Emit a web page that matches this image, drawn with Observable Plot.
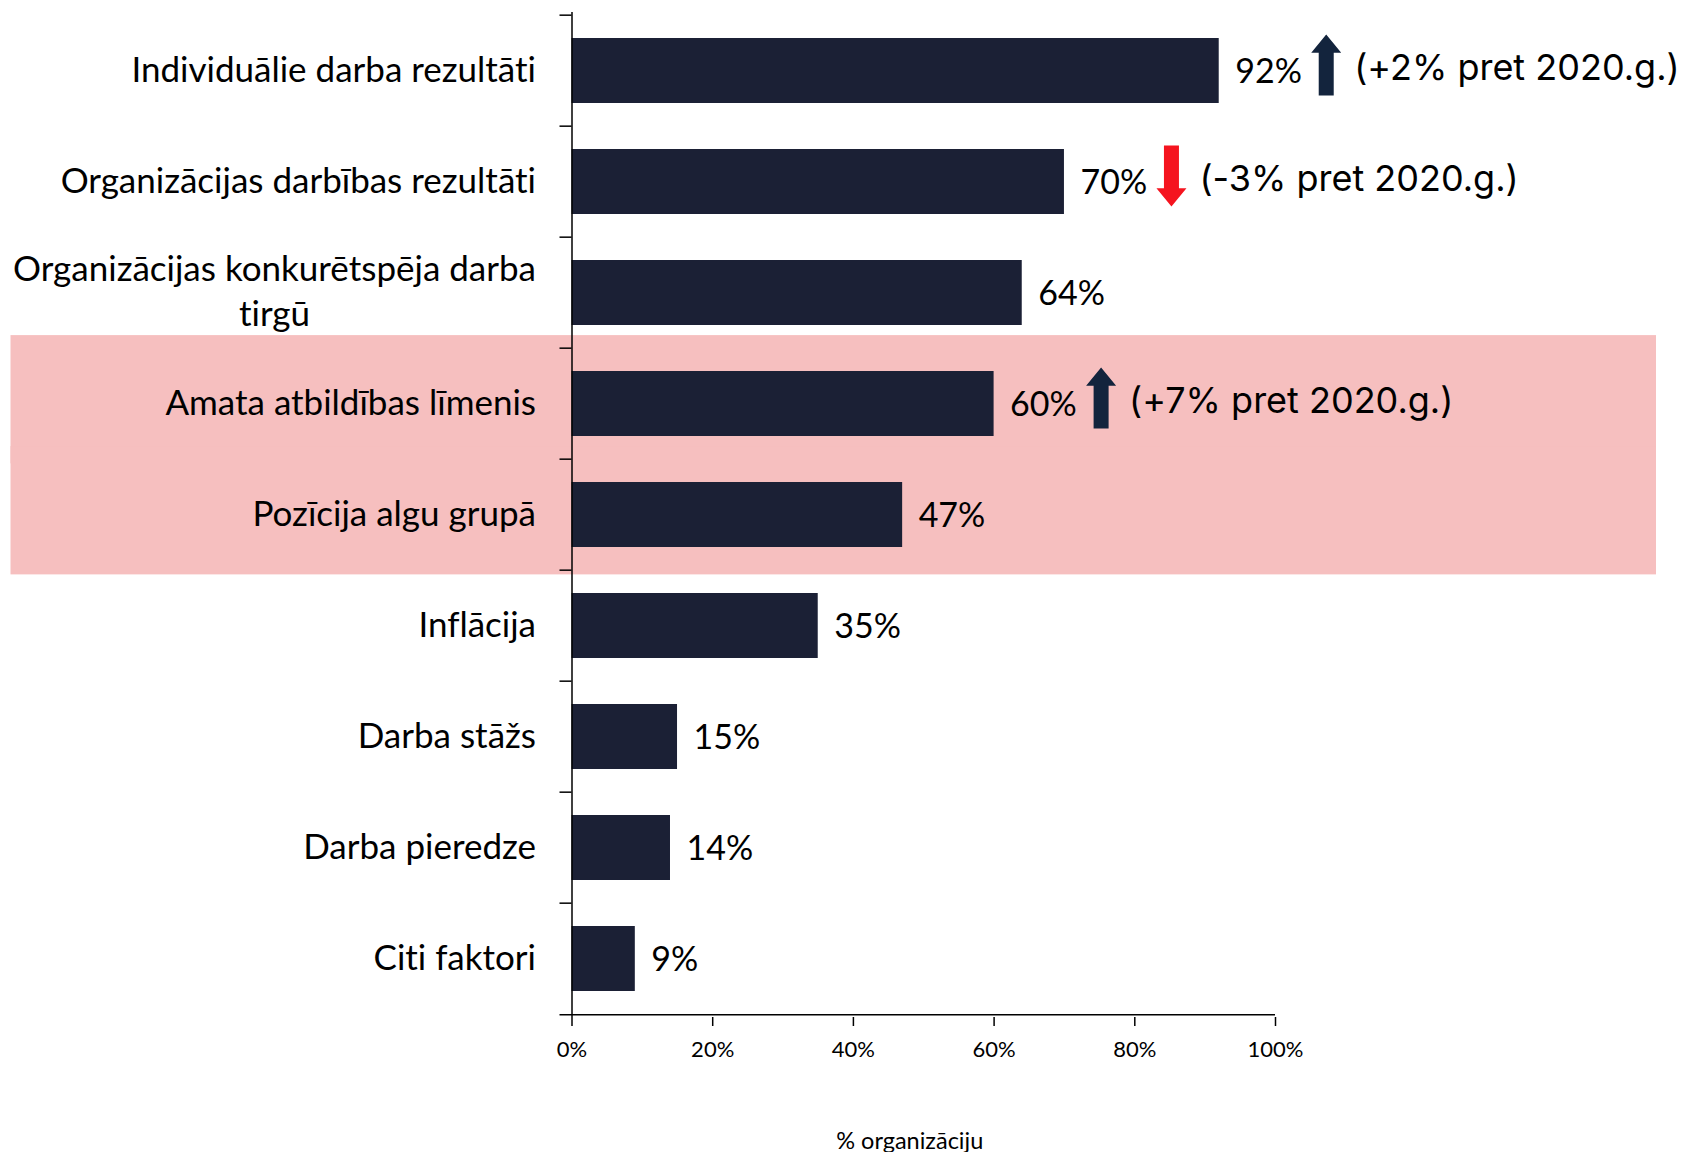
<!DOCTYPE html>
<html>
<head>
<meta charset="utf-8">
<script src="https://cdn.jsdelivr.net/npm/d3@7"></script>
<script src="https://cdn.jsdelivr.net/npm/@observablehq/plot@0.6"></script>
<style>
  html, body { margin: 0; padding: 0; background: #ffffff; }
  #chart svg { display: block; font-variant-ligatures: none; font-feature-settings: "liga" 0, "clig" 0; }
  #chart svg text { font-variant-ligatures: none; font-feature-settings: "liga" 0, "clig" 0; }
</style>
</head>
<body>
<div id="chart"></div>
<script>
// ---- data ----
const categories = [
  "Individuālie darba rezultāti",
  "Organizācijas darbības rezultāti",
  "Organizācijas konkurētspēja darba tirgū",
  "Amata atbildības līmenis",
  "Pozīcija algu grupā",
  "Inflācija",
  "Darba stāžs",
  "Darba pieredze",
  "Citi faktori"
];
const values = [92, 70, 64, 60, 47, 35, 15, 14, 9];
const categoryLabels = [
  "Individuālie darba rezultāti",
  "Organizācijas darbības rezultāti",
  "Organizācijas konkurētspēja darba\ntirgū",
  "Amata atbildības līmenis",
  "Pozīcija algu grupā",
  "Inflācija",
  "Darba stāžs",
  "Darba pieredze",
  "Citi faktori"
];
const highlightedCategories = ["Amata atbildības līmenis", "Pozīcija algu grupā"];
const changeCategories = ["Individuālie darba rezultāti", "Organizācijas darbības rezultāti", "Amata atbildības līmenis"];
const changeValues = [2, -3, 7];
const changeSuffix = "% pret 2020.g.";
const xTicks = [0, 20, 40, 60, 80, 100];
const xLabel = "% organizāciju";

// ---- derived tables ----
const data = categories.map((c, i) => ({category: c, value: values[i]}));
const labelOf = new Map(categories.map((c, i) => [c, categoryLabels[i]]));
const changeData = changeCategories.map((c, i) => ({
  category: c,
  change: changeValues[i],
  value: values[categories.indexOf(c)]
}));

// ---- layout / style ----
const W = 1693, H = 1152;
const mTop = 12, mBottom = 135, mLeft = 571.5, mRight = 418;
const padIn = 0.41;
const step = (H - mTop - mBottom) / categories.length;
const bw = step * (1 - padIn);
const navy = "#1b2035";
const arrowNavy = "#13243d";
const red = "#f5141f";
const pink = "#f6bfbf";
const labelFont = "Lato, 'Open Sans', sans-serif";
const noteFont = "Inter, 'Noto Sans', sans-serif";

const blockArrow = {
  draw(ctx, l, r) {
    const hh = l * 0.3, sw = r * 0.5;
    ctx.moveTo(0, -l);
    ctx.lineTo(r, -l + hh);
    ctx.lineTo(sw, -l + hh);
    ctx.lineTo(sw, 0);
    ctx.lineTo(-sw, 0);
    ctx.lineTo(-sw, -l + hh);
    ctx.lineTo(-r, -l + hh);
    ctx.closePath();
  }
};

const chart = Plot.plot({
  width: W,
  height: H,
  marginTop: mTop,
  marginBottom: mBottom,
  marginLeft: mLeft,
  marginRight: mRight,
  style: {fontFamily: labelFont, color: "#000", background: "#fff", overflow: "visible"},
  x: {domain: [0, 100], label: null},
  y: {type: "band", domain: categories, paddingInner: padIn, paddingOuter: padIn / 2, label: null},
  marks: [
    // highlight band
    Plot.barX(highlightedCategories, {
      y: d => d, x1: 0, x2: 100, fill: pink,
      insetLeft: -561, insetRight: -381,
      insetTop: -((step - bw) / 2 + 13), insetBottom: -((step - bw) / 2 + 4.5)
    }),
    // bars
    Plot.barX(data, {x: "value", y: "category", fill: navy}),
    // axes lines
    Plot.ruleX([0], {stroke: "#000", strokeWidth: 1.5}),
    Plot.ruleY(categories, {y: d => d, x1: 0, x2: 0, insetLeft: -12, dy: -step / 2, stroke: "#000", strokeWidth: 1.5}),
    Plot.ruleY(categories.slice(-1), {y: d => d, x1: 0, x2: 100, insetLeft: -12, dy: step / 2, stroke: "#000", strokeWidth: 1.5}),
    Plot.axisY({
      label: null, tickSize: 0, tickPadding: 36, fontSize: 35, lineHeight: 1.3, dy: -4,
      tickFormat: d => labelOf.get(d), fontFamily: labelFont
    }),
    Plot.axisX({
      ticks: xTicks, tickFormat: d => d + "%", tickSize: 9, tickPadding: 15,
      fontSize: 22, strokeWidth: 1.5, label: null, fontFamily: labelFont
    }),
    Plot.text([xLabel], {frameAnchor: "bottom", dx: -14, dy: 131, fontSize: 23.5, fontFamily: labelFont}),
    // value labels
    Plot.text(data, {
      x: "value", y: "category", text: d => d.value + "%",
      textAnchor: "start", dx: 16, dy: 1, fontSize: 34, fontFamily: labelFont
    }),
    // change arrows
    Plot.vector(changeData, {
      filter: d => d.change > 0,
      x: "value", y: "category", dx: 107, dy: -6,
      length: 61, r: 15, shape: blockArrow, rotate: 0,
      fill: arrowNavy, stroke: "none"
    }),
    Plot.vector(changeData, {
      filter: d => d.change < 0,
      x: "value", y: "category", dx: 107, dy: -6,
      length: 61, r: 15, shape: blockArrow, rotate: 180,
      fill: red, stroke: "none"
    }),
    // change notes
    Plot.text(changeData, {
      x: "value", y: "category",
      text: d => `(${d.change > 0 ? "+" : ""}${d.change}${changeSuffix})`,
      textAnchor: "start", dx: 135, dy: -3, fontSize: 36, fontFamily: noteFont
    })
  ]
});

document.getElementById("chart").appendChild(chart);

// center the lines of wrapped y-axis labels (as in the original)
chart.querySelectorAll('g[aria-label="y-axis tick label"] text').forEach(t => {
  const spans = t.querySelectorAll("tspan");
  if (spans.length > 1) {
    let maxW = 0;
    spans.forEach(s => { maxW = Math.max(maxW, s.getComputedTextLength()); });
    t.setAttribute("text-anchor", "middle");
    spans.forEach(s => s.setAttribute("x", -maxW / 2));
  }
});
</script>
</body>
</html>
